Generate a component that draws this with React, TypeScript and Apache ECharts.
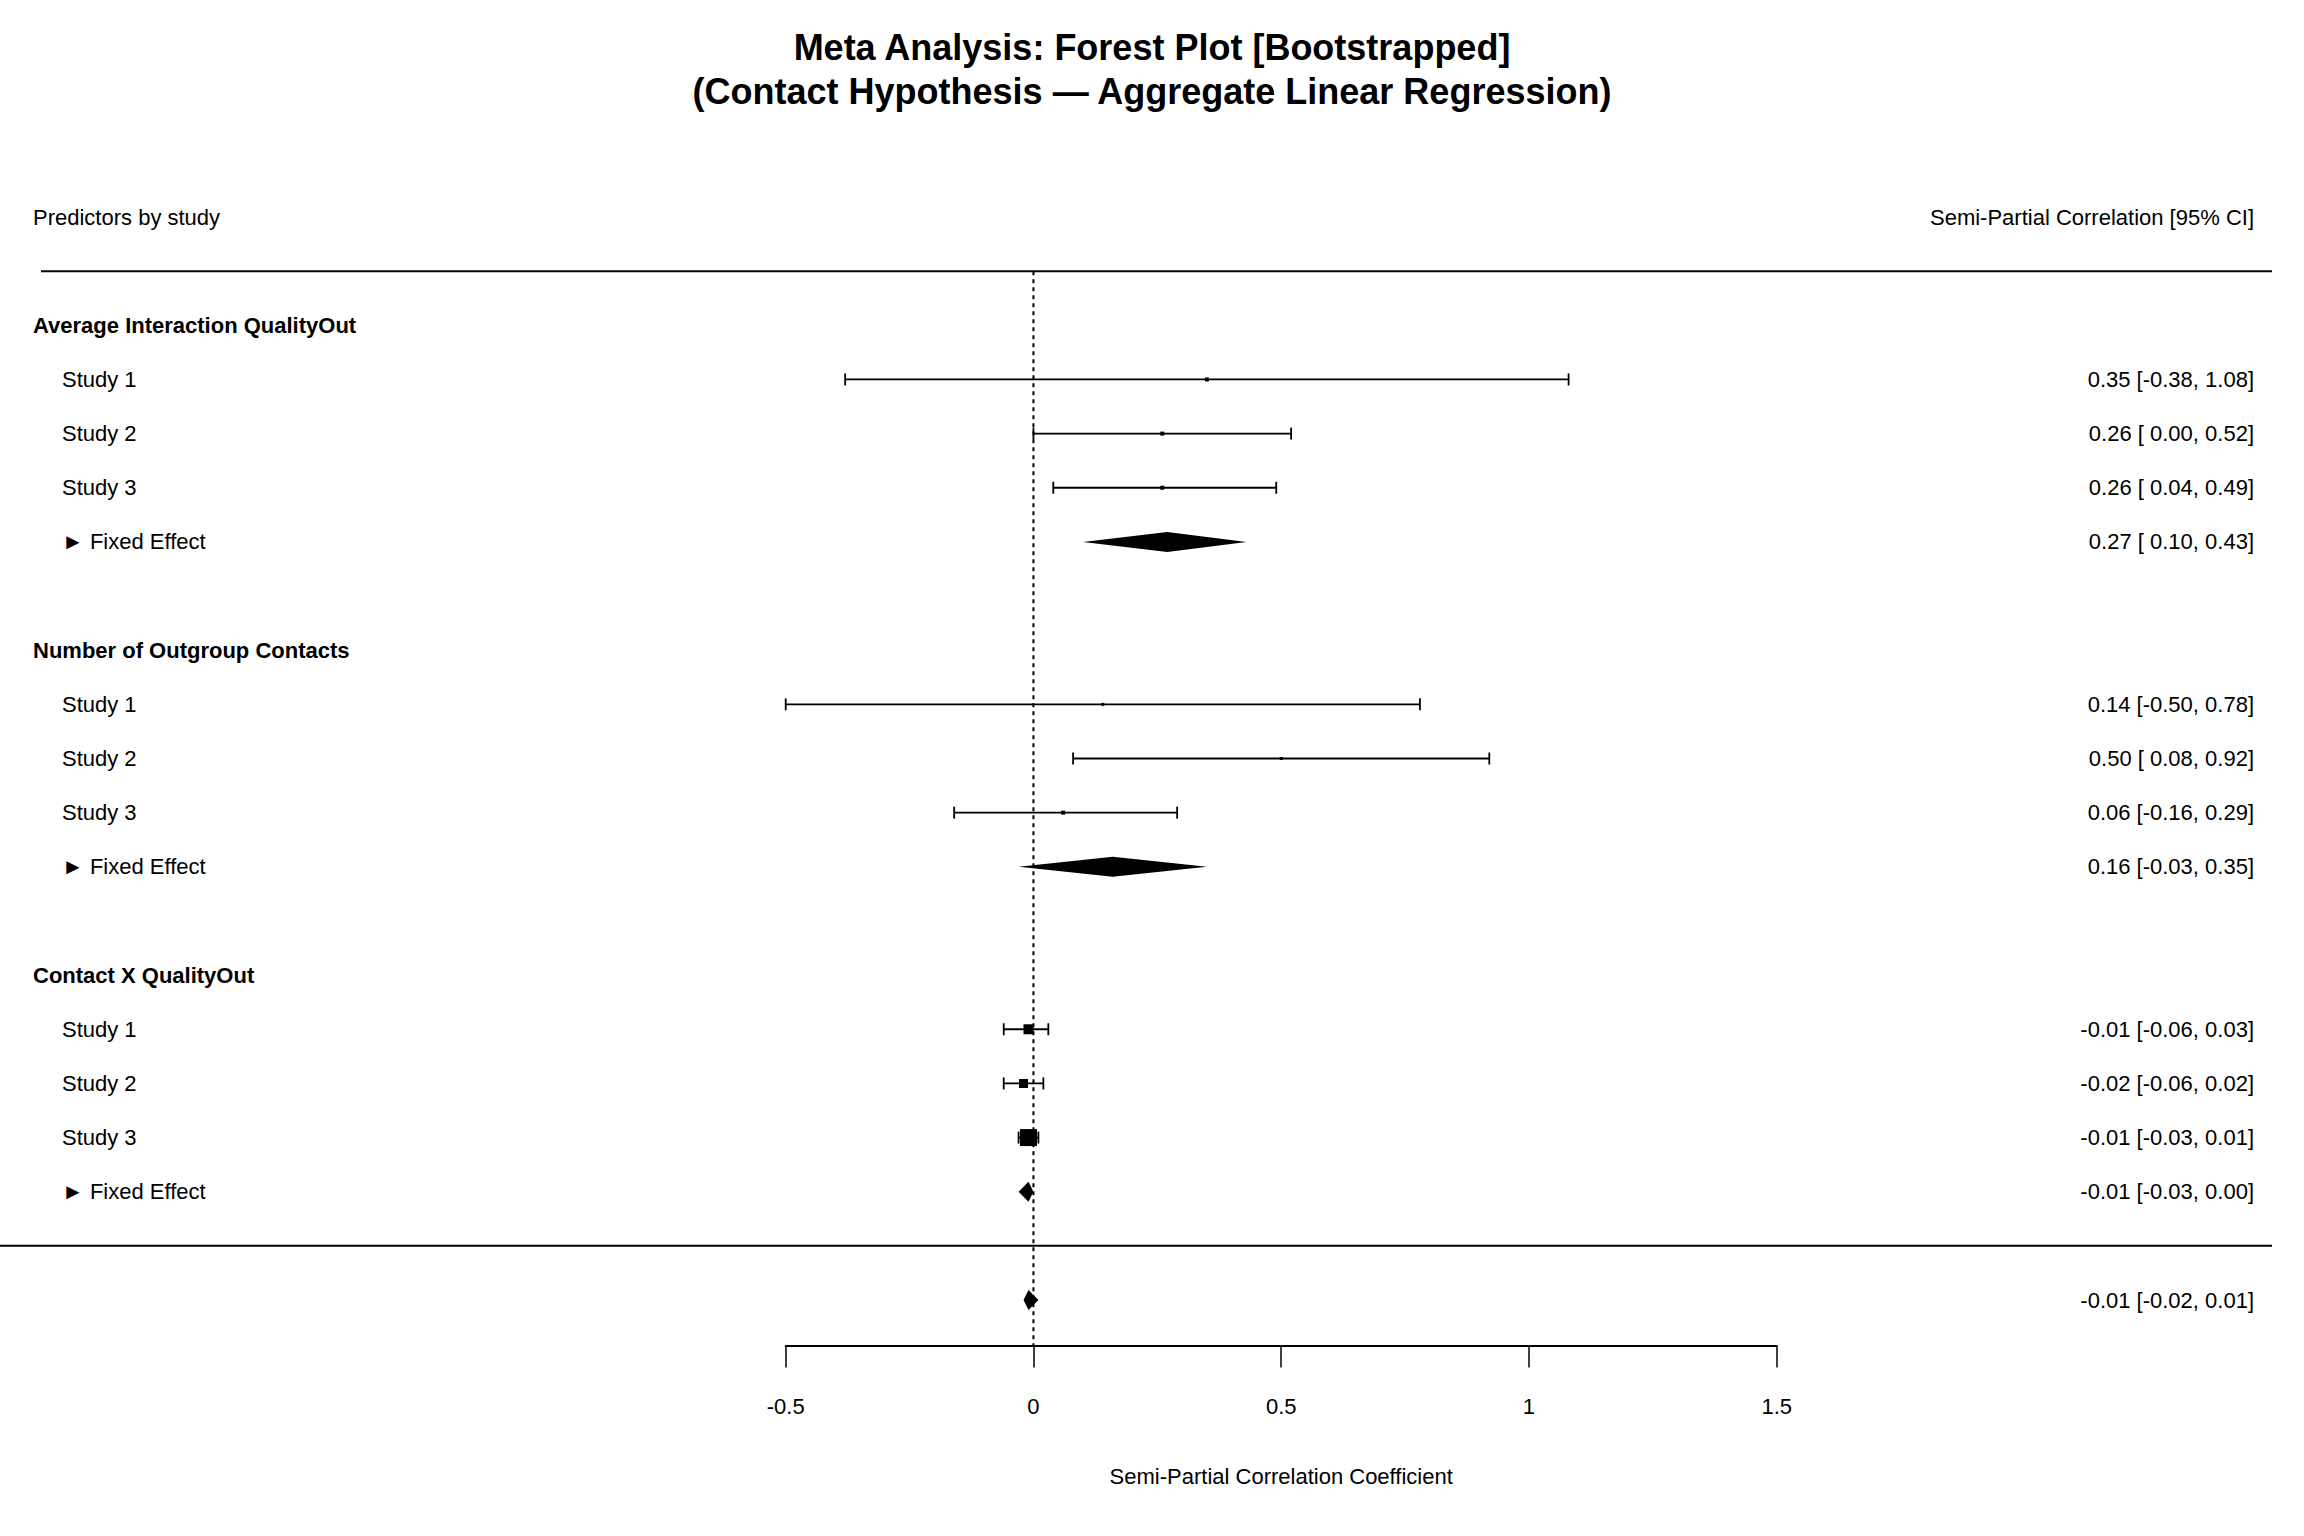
import * as echarts from 'echarts';
import React, { useEffect, useRef } from 'react';

const groups = ['Average Interaction QualityOut', 'Number of Outgroup Contacts', 'Contact X QualityOut'];
const studies = ['Study 1', 'Study 2', 'Study 3'];
const est = [[0.35, 0.26, 0.26], [0.14, 0.50, 0.06], [-0.01, -0.02, -0.01]];
const lower = [[-0.38, 0.00, 0.04], [-0.50, 0.08, -0.16], [-0.06, -0.06, -0.03]];
const upper = [[1.08, 0.52, 0.49], [0.78, 0.92, 0.29], [0.03, 0.02, 0.01]];
const boxSize = [[4, 4, 4], [3, 3, 4], [10, 9, 17]];
const fixedEst = [0.27, 0.16, -0.01];
const fixedLo = [0.10, -0.03, -0.03];
const fixedHi = [0.43, 0.35, 0.00];
const overall = [-0.01, -0.02, 0.01];
const xTicks = [-0.5, 0, 0.5, 1, 1.5];

const FONT = 'Liberation Sans, Arial, Helvetica, sans-serif';

const f = (v: number) => (v < 0 ? v.toFixed(2) : ' ' + v.toFixed(2));
const ciText = (e: number, l: number, h: number) => `${e.toFixed(2)} [${f(l)},${f(h)}]`;

// items: [est, row, lo, hi, size, kind(0 box,1 diamond), leftLabel, leftKind(0 none,1 header,2 study,3 fe), rightLabel]
type Item = [number, number, number, number, number, number, string, number, string];
const items: Item[] = [];
groups.forEach((g, gi) => {
  const base = gi * 6;
  items.push([NaN, base, NaN, NaN, 0, -1, g, 1, '']);
  studies.forEach((s, si) => {
    items.push([est[gi][si], base + 1 + si, lower[gi][si], upper[gi][si], boxSize[gi][si], 0, s, 2,
      ciText(est[gi][si], lower[gi][si], upper[gi][si])]);
  });
  items.push([fixedEst[gi], base + 4, fixedLo[gi], fixedHi[gi], 0, 1, '► Fixed Effect', 3,
    ciText(fixedEst[gi], fixedLo[gi], fixedHi[gi])]);
});
items.push([overall[0], 18, overall[1], overall[2], 0, 1, '', 0, ciText(overall[0], overall[1], overall[2])]);

const App: React.FC = () => {
  const ref = useRef<HTMLDivElement>(null);
  useEffect(() => {
    document.body.style.margin = '0';
    if (!ref.current) return;
    const chart = echarts.init(ref.current, undefined, { renderer: 'svg' });
    const txt = (x: number, y: number, text: string, align: string, bold = false) => ({
      type: 'text', x, y,
      style: { text, fill: '#000', font: `${bold ? 'bold ' : ''}${22}px ${FONT}`, textAlign: align, textVerticalAlign: 'middle' },
    });
    chart.setOption({
      animation: false,
      title: {
        text: 'Meta Analysis: Forest Plot [Bootstrapped]\n(Contact Hypothesis — Aggregate Linear Regression)',
        left: 'center', top: 20,
        textStyle: { fontFamily: FONT, fontSize: 36, fontWeight: 'bold', lineHeight: 44, color: '#000' },
      },
      grid: { left: 785.7, right: 527.3, top: 217, bottom: 190.5 },
      xAxis: {
        type: 'value', min: -0.5, max: 1.5, interval: 0.5,
        splitLine: { show: false },
        axisLine: { onZero: false, lineStyle: { color: '#000', width: 2 } },
        axisTick: { length: 22, lineStyle: { color: '#000', width: 1.5 } },
        axisLabel: { color: '#000', fontFamily: FONT, fontSize: 22, margin: 50,
          formatter: (v: number) => (xTicks.includes(v) ? String(v) : '') },
        name: 'Semi-Partial Correlation Coefficient', nameLocation: 'middle', nameGap: 120,
        nameTextStyle: { color: '#000', fontFamily: FONT, fontSize: 22 },
      },
      yAxis: { type: 'value', min: -2, max: 18.84, inverse: true, show: false },
      series: [
        {
          type: 'custom', clip: false, data: items,
          renderItem: (params: any, api: any) => {
            const row = api.value(1);
            const kind = api.value(5);
            const i = params.dataIndex;
            const it = items[i];
            const c = api.coord([0, row]);
            const y = c[1];
            const children: any[] = [];
            if (i === 0) {
              const top = api.coord([0, -1])[1];
              const bot = api.coord([0, 17])[1];
              const end = api.coord([0, 18.84])[1];
              const hy = api.coord([0, -2])[1];
              children.push(txt(33, hy, 'Predictors by study', 'left'));
              children.push(txt(2254, hy, 'Semi-Partial Correlation [95% CI]', 'right'));
              children.push({ type: 'line', shape: { x1: 41, y1: top, x2: 2272, y2: top }, style: { stroke: '#000', lineWidth: 2 } });
              children.push({ type: 'line', shape: { x1: 0, y1: bot, x2: 2272, y2: bot }, style: { stroke: '#000', lineWidth: 2 } });
              children.push({ type: 'line', shape: { x1: c[0], y1: top, x2: c[0], y2: end }, style: { stroke: '#000', lineWidth: 2, lineDash: [4, 4] } });
            }
            if (it[7] === 1) children.push(txt(33, y, it[6], 'left', true));
            if (it[7] === 2 || it[7] === 3) children.push(txt(62, y, it[6], 'left'));
            if (it[8]) children.push(txt(2254, y, it[8], 'right'));
            if (kind === 0) {
              const l = api.coord([api.value(2), row])[0];
              const h = api.coord([api.value(3), row])[0];
              const e = api.coord([api.value(0), row])[0];
              const s = api.value(4);
              const cap = 6;
              children.push({ type: 'line', shape: { x1: l, y1: y, x2: h, y2: y }, style: { stroke: '#000', lineWidth: 1.8 } });
              children.push({ type: 'line', shape: { x1: l, y1: y - cap, x2: l, y2: y + cap }, style: { stroke: '#000', lineWidth: 1.8 } });
              children.push({ type: 'line', shape: { x1: h, y1: y - cap, x2: h, y2: y + cap }, style: { stroke: '#000', lineWidth: 1.8 } });
              children.push({ type: 'rect', shape: { x: e - s / 2, y: y - s / 2, width: s, height: s }, style: { fill: '#000' } });
            } else if (kind === 1) {
              const l = api.coord([api.value(2), row])[0];
              const h = api.coord([api.value(3), row])[0];
              const e = api.coord([api.value(0), row])[0];
              const dh = 10;
              children.push({ type: 'polygon', shape: { points: [[l, y], [e, y - dh], [h, y], [e, y + dh]] }, style: { fill: '#000' } });
            }
            return { type: 'group', children };
          },
        },
      ],
    });
    return () => chart.dispose();
  }, []);
  return <div ref={ref} style={{ width: 2304, height: 1536 }} />;
};

export default App;
